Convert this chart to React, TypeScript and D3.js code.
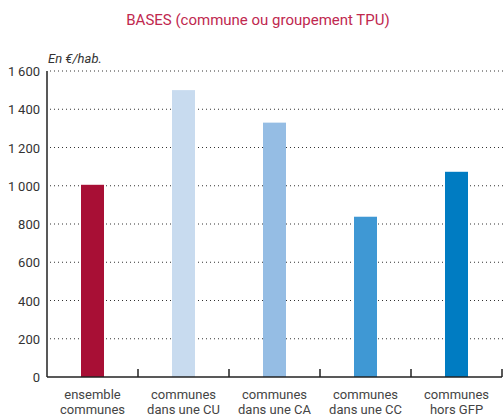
import { useRef, useEffect } from "react";
import * as d3 from "d3";

const categories = [
  ["ensemble", "communes"],
  ["communes", "dans une CU"],
  ["communes", "dans une CA"],
  ["communes", "dans une CC"],
  ["communes", "hors GFP"],
];
const values = [1005, 1500, 1330, 838, 1073];
const barColors = ["#a80f35", "#c8dbef", "#95bde4", "#3f98d4", "#007cc2"];
const yTicks = [0, 200, 400, 600, 800, 1000, 1200, 1400, 1600];

const width = 503;
const height = 416;
const font = "'Roboto', sans-serif";

export default function App() {
  const svgRef = useRef<SVGSVGElement>(null);

  useEffect(() => {
    if (!svgRef.current) return;
    const svg = d3.select(svgRef.current);
    svg.selectAll("*").remove();

    const margin = { top: 71, right: 1, bottom: 39, left: 47 };
    const chartWidth = width - margin.left - margin.right;
    const chartHeight = height - margin.top - margin.bottom;

    const xScale = d3
      .scaleBand<number>()
      .domain(categories.map((_, i) => i))
      .range([0, chartWidth]);

    const yScale = d3.scaleLinear().domain([0, 1600]).range([chartHeight, 0]);

    // title
    svg
      .append("text")
      .attr("x", 258)
      .attr("y", 25)
      .attr("text-anchor", "middle")
      .attr("font-family", font)
      .attr("font-size", 15)
      .attr("fill", "#c0284f")
      .text("BASES (commune ou groupement TPU)");

    const chart = svg
      .append("g")
      .attr("transform", `translate(${margin.left},${margin.top})`);

    // gridlines
    chart
      .selectAll("line.grid")
      .data(yTicks.filter((t) => t > 0))
      .enter()
      .append("line")
      .attr("class", "grid")
      .attr("x1", 3)
      .attr("x2", chartWidth + 1)
      .attr("y1", (d) => yScale(d))
      .attr("y2", (d) => yScale(d))
      .attr("stroke", "#333")
      .attr("stroke-width", 1)
      .attr("stroke-dasharray", "1,3");

    // bars
    const barW = 23;
    chart
      .selectAll("rect")
      .data(values)
      .enter()
      .append("rect")
      .attr("x", (_, i) => (xScale(i) as number) + xScale.bandwidth() / 2 - barW / 2)
      .attr("y", (d) => yScale(d))
      .attr("width", barW)
      .attr("height", (d) => chartHeight - yScale(d))
      .attr("fill", (_, i) => barColors[i]);

    // y labels
    chart
      .selectAll("text.ylab")
      .data(yTicks)
      .enter()
      .append("text")
      .attr("class", "ylab")
      .attr("x", -7)
      .attr("y", (d) => yScale(d) + 5)
      .attr("text-anchor", "end")
      .attr("font-family", font)
      .attr("font-size", 13)
      .attr("fill", "#333")
      .text((d) => (d >= 1000 ? `${Math.floor(d / 1000)}\u2009${String(d % 1000).padStart(3, "0")}` : String(d)));

    // unit
    chart
      .append("text")
      .attr("x", 1)
      .attr("y", -8)
      .attr("font-family", font)
      .attr("font-size", 13)
      .attr("font-style", "italic")
      .attr("fill", "#333")
      .text("En €/hab.");

    // axes
    chart
      .append("line")
      .attr("x1", 0)
      .attr("x2", 0)
      .attr("y1", 0)
      .attr("y2", chartHeight)
      .attr("stroke", "#222")
      .attr("stroke-width", 1.5);
    chart
      .append("line")
      .attr("x1", 0)
      .attr("x2", chartWidth)
      .attr("y1", chartHeight)
      .attr("y2", chartHeight)
      .attr("stroke", "#222")
      .attr("stroke-width", 1.5);
    chart
      .selectAll("line.tick")
      .data(categories.map((_, i) => i))
      .enter()
      .append("line")
      .attr("class", "tick")
      .attr("x1", (i) => (xScale(i) as number) + xScale.bandwidth())
      .attr("x2", (i) => (xScale(i) as number) + xScale.bandwidth())
      .attr("y1", chartHeight)
      .attr("y2", chartHeight - 8)
      .attr("stroke", "#222")
      .attr("stroke-width", 1.5);

    // x labels
    const xl = chart
      .selectAll("text.xlab")
      .data(categories)
      .enter()
      .append("text")
      .attr("class", "xlab")
      .attr("text-anchor", "middle")
      .attr("font-family", font)
      .attr("font-size", 13)
      .attr("fill", "#444");
    xl.each(function (d, i) {
      const t = d3.select(this);
      d.forEach((line, j) => {
        t.append("tspan")
          .attr("x", (xScale(i) as number) + xScale.bandwidth() / 2)
          .attr("y", chartHeight + 22 + j * 15)
          .text(line);
      });
    });
  }, []);

  return (
    <svg
      ref={svgRef}
      width={width}
      height={height}
      style={{ position: "absolute", left: 0, top: 0, background: "#fff" }}
    />
  );
}
